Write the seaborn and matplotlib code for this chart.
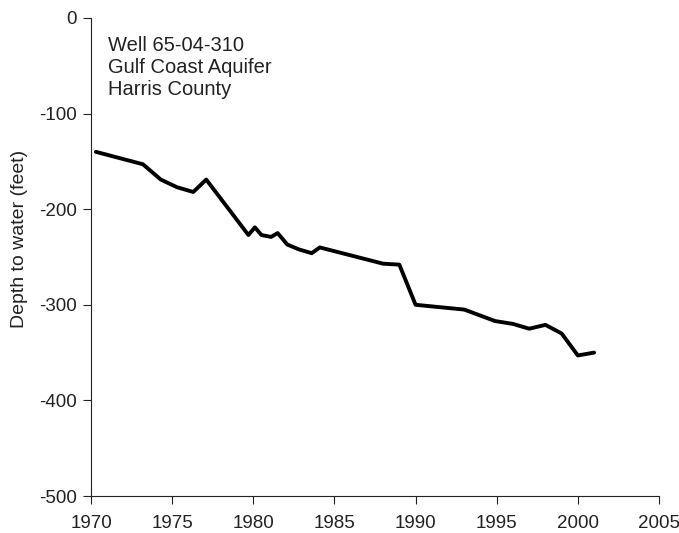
import matplotlib
matplotlib.use("Agg")
import matplotlib.pyplot as plt
import seaborn as sns
import pandas as pd

# water level readings
years = [1970.3, 1973.2, 1974.3, 1975.3, 1976.3, 1977.1, 1979.7, 1980.1,
         1980.5, 1981.1, 1981.5, 1982.1, 1982.8, 1983.6, 1984.1, 1988.0,
         1989.0, 1990.0, 1993.0, 1994.9, 1996.0, 1997.0, 1998.0, 1999.0,
         2000.0, 2001.0]
depth = [-140, -153, -169, -177, -182, -169, -227, -219,
         -227, -229, -225, -237, -242, -246, -240, -257,
         -258, -300, -305, -317, -320, -325, -321, -330,
         -353, -350]

x_ticks = [1970, 1975, 1980, 1985, 1990, 1995, 2000, 2005]
y_ticks = [0, -100, -200, -300, -400, -500]
label_lines = ["Well 65-04-310", "Gulf Coast Aquifer", "Harris County"]


def main():
    sns.set_style("ticks")
    plt.rcParams['font.family'] = ['Liberation Sans', 'DejaVu Sans']
    plt.rcParams['axes.unicode_minus'] = False

    df = pd.DataFrame({"year": years, "depth": depth})

    fig = plt.figure(figsize=(6.79, 5.33), dpi=100)
    ax = fig.add_axes([91 / 679, 1 - 496 / 533, 568 / 679, 478 / 533])

    sns.lineplot(data=df, x="year", y="depth", color="black", linewidth=2.8, ax=ax)

    ax.set_xlim(1970, 2005)
    ax.set_ylim(-500, 0)
    ax.set_xticks(x_ticks)
    ax.set_yticks(y_ticks)
    ax.tick_params(labelsize=13.5, length=6, width=0.8, colors="#222222")
    ax.tick_params(axis="x", pad=8)
    ax.tick_params(axis="y", pad=4)
    ax.set_xlabel("")
    ax.set_ylabel("Depth to water (feet)", fontsize=14, color="#222222")
    ax.yaxis.set_label_coords(-0.111, 0.538)
    sns.despine(ax=ax)
    for s in ["left", "bottom"]:
        ax.spines[s].set_linewidth(0.8)
        ax.spines[s].set_color("#222222")

    ax.text(0.03, 0.962, "\n".join(label_lines), transform=ax.transAxes,
            fontsize=14.5, va="top", ha="left", color="#222222", linespacing=1.2)

    fig.savefig("out.png", dpi=100)


if __name__ == "__main__":
    main()
